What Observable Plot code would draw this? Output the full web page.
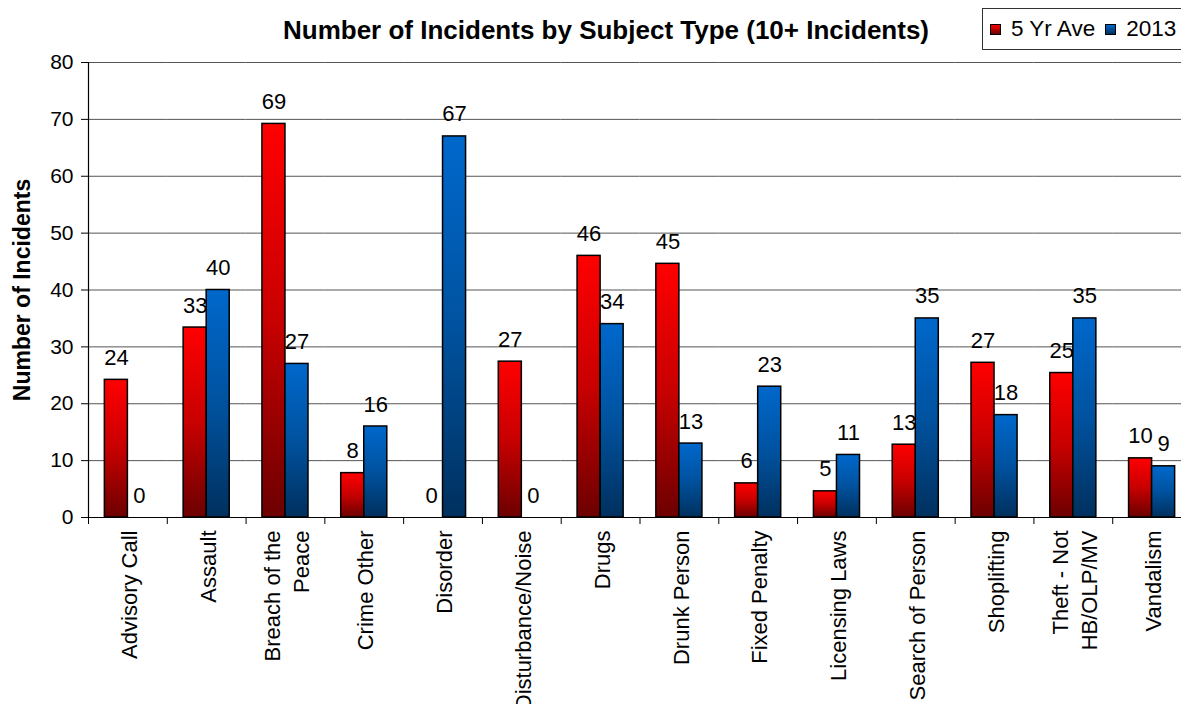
<!DOCTYPE html>
<html>
<head>
<meta charset="utf-8">
<script src="https://cdn.jsdelivr.net/npm/d3@7"></script>
<script src="https://cdn.jsdelivr.net/npm/@observablehq/plot@0.6"></script>
<style>
  html, body { margin: 0; padding: 0; background: #fff; overflow: hidden; }
  #wrap { position: relative; width: 1181px; height: 704px; overflow: hidden;
          font-family: "Liberation Sans", Arial, sans-serif; color: #000; }
  #chart { position: absolute; left: 0; top: 0; }
  #chart svg { max-width: none !important; }
  #title { position: absolute; left: 0; width: 1212px; top: 15px; text-align: center;
           font-weight: bold; font-size: 26px; }
  #legend { position: absolute; left: 982px; top: 8px; width: 240px; height: 42px;
            box-sizing: border-box; border: 1px solid #333; background: #fff;
            display: flex; align-items: center; padding-left: 7px; font-size: 22.5px; }
  #legend .item { display: flex; align-items: center; margin-right: 10px; }
  #legend .sw { width: 9px; height: 9px; border: 1px solid #000; margin-right: 10px; }
  #chart g[aria-label="y-axis label"] text { font-weight: bold; font-size: 23px; }
  #chart g[aria-label="fx-axis tick label"] text,
  #chart g[aria-label="text"] text { font-size: 22px; }
</style>
</head>
<body>
<div id="wrap">
  <div id="chart"></div>
  <div id="title">Number of Incidents by Subject Type (10+ Incidents)</div>
  <div id="legend"></div>
</div>
<script>
// Incident subject types (10+ incidents)
const categories = [
  "Advisory Call", "Assault", "Breach of the\nPeace", "Crime Other", "Disorder",
  "Disturbance/Noise", "Drugs", "Drunk Person", "Fixed Penalty", "Licensing Laws",
  "Search of Person", "Shoplifting", "Theft - Not\nHB/OLP/MV", "Vandalism"
];
const series = ["5 Yr Ave", "2013"];
const fiveYearAve = [24.2, 33.4, 69.2, 7.8, 0, 27.4, 46, 44.6, 6, 4.6, 12.8, 27.2, 25.4, 10.4];
const year2013 = [0, 40, 27, 16, 67, 0, 34, 13, 23, 11, 35, 18, 35, 9];
const yTicks = [0, 10, 20, 30, 40, 50, 60, 70, 80];

const rows = categories.flatMap((category, i) => [
  {category, series: series[0], value: fiveYearAve[i]},
  {category, series: series[1], value: year2013[i]}
]);

const gradients = {
  "5 Yr Ave": {id: "grad-ave", stops: [[0, "#ff0000"], [0.5, "#c80000"], [1, "#6c0000"]]},
  "2013": {id: "grad-2013", stops: [[0, "#0068cc"], [0.5, "#00529f"], [1, "#00305e"]]}
};

const W = 1200, ML = 88, MR = 9;
const band = (W - ML - MR) / categories.length;
const fmt = d3.format(".0f");

const chart = Plot.plot({
  width: W,
  height: 704,
  marginTop: 62,
  marginBottom: 187,
  marginLeft: ML,
  marginRight: MR,
  style: {fontFamily: "Liberation Sans, Arial, sans-serif", fontSize: "21px", color: "#000",
          background: "transparent", maxWidth: "none"},
  fx: {domain: categories, padding: 0, round: false, label: null},
  x: {domain: series, paddingInner: 0, paddingOuter: 0.71, round: false, axis: null},
  y: {domain: [0, 80]},
  color: {domain: series, range: series.map(s => `url(#${gradients[s].id})`)},
  marks: [
    Plot.gridY(yTicks, {stroke: "#555", strokeOpacity: 1}),
    Plot.axisY(yTicks, {tickSize: 7, tickPadding: 8, label: "Number of Incidents",
                        labelAnchor: "center", labelOffset: 75, labelArrow: false}),
    Plot.axisFx({anchor: "bottom", tickSize: 0, tickPadding: 13, tickRotate: -90, lineHeight: 1.3, label: null}),
    Plot.axisFx({anchor: "bottom", tickSize: 7, tickFormat: () => "", dx: -band / 2, label: null}),
    Plot.barY(rows, {fx: "category", x: "series", y: "value", fill: "series",
                     stroke: "#000", strokeWidth: 1.5}),
    Plot.text(rows, {fx: "category", x: "series", y: "value", text: d => fmt(d.value),
                     dy: -15, lineAnchor: "bottom", fill: "#000"}),
    Plot.ruleY([0], {stroke: "#000", strokeWidth: 1.2}),
    Plot.frame({anchor: "left", facet: "super", stroke: "#000", strokeWidth: 1.2})
  ]
});

// vertical shading gradients for the bars
const defs = d3.select(chart).insert("defs", ":first-child");
for (const s of series) {
  const g = defs.append("linearGradient").attr("id", gradients[s].id)
    .attr("x1", 0).attr("y1", 0).attr("x2", 0).attr("y2", 1);
  for (const [o, c] of gradients[s].stops) g.append("stop").attr("offset", o).attr("stop-color", c);
}
document.getElementById("chart").appendChild(chart);

// legend
const legend = d3.select("#legend");
for (const s of series) {
  const [c0, , c1] = gradients[s].stops.map(d => d[1]);
  const item = legend.append("div").attr("class", "item");
  item.append("div").attr("class", "sw").style("background", `linear-gradient(${c0}, ${c1})`);
  item.append("span").text(s);
}
</script>
</body>
</html>
